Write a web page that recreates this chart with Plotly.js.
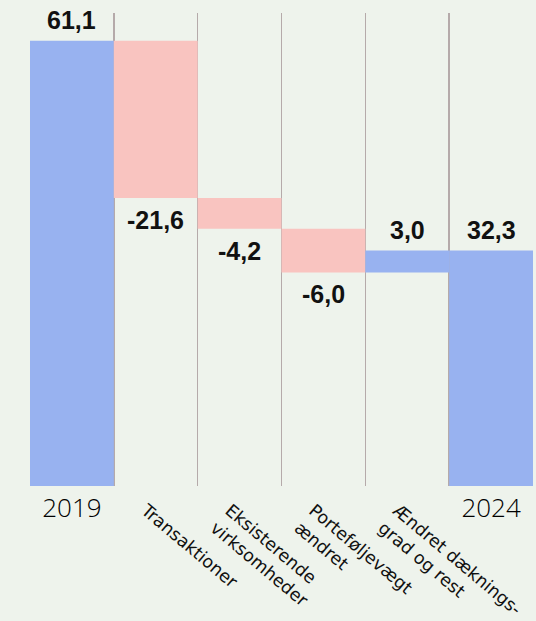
<!DOCTYPE html>
<html>
<head>
<meta charset="utf-8">
<script src="https://cdn.plot.ly/plotly-3.0.1.min.js"></script>
<style>html,body{margin:0;padding:0;background:#eef3ec;}#chart{width:536px;height:621px;}</style>
</head>
<body>
<div id="chart"></div>
<script>
const categories = ["2019", "Transaktioner", "Eksisterende<br>virksomheder", "Porteføljevægt<br>ændret", "Ændret dæknings-<br>grad og rest", "2024"];
const measures = ["absolute", "relative", "relative", "relative", "relative", "total"];
const values = [61.1, -21.6, -4.2, -6.0, 3.0, 0];
const valueLabels = ["61,1", "-21,6", "-4,2", "-6,0", "3,0", "32,3"];

const blue = "#98b2f0";
const pink = "#f9c4c0";
const idx = categories.map((_, i) => i);

const trace = {
  type: "waterfall",
  x: idx,
  y: values,
  measure: measures,
  textposition: "none",
  increasing: {marker: {color: blue}},
  decreasing: {marker: {color: pink}},
  totals: {marker: {color: blue}},
  connector: {visible: false},
  hoverinfo: "none"
};
const dummy2 = {type: "scatter", x: [], y: [], xaxis: "x2", yaxis: "y", hoverinfo: "none", showlegend: false};
const dummy3 = {type: "scatter", x: [], y: [], xaxis: "x3", yaxis: "y", hoverinfo: "none", showlegend: false};

// label positions from the running totals
let running = 0;
const annotations = values.map((v, i) => {
  const m = measures[i];
  let end;
  if (m === "absolute") { end = v; }
  else if (m === "total") { end = running; }
  else { end = running + v; }
  running = end;
  const down = m === "relative" && v < 0;
  return {
    x: idx[i], y: end, xref: "x", yref: "y",
    text: valueLabels[i], showarrow: false,
    yanchor: down ? "top" : "bottom",
    yshift: down ? -6 : 5,
    font: {family: "Liberation Sans, Arial, sans-serif", size: 25, color: "#111", weight: 700}
  };
});

const edge = [-0.5, categories.length - 0.5];
const layout = {
  width: 536, height: 621,
  margin: {l: 30, r: 3, t: 13, b: 135},
  paper_bgcolor: "#eef3ec",
  plot_bgcolor: "#eef3ec",
  showlegend: false,
  waterfallgap: 0,
  annotations: annotations,
  xaxis: {
    type: "linear", range: edge,
    tickvals: [idx[0], idx[idx.length - 1]],
    ticktext: [categories[0], categories[categories.length - 1]],
    tickangle: 0, showgrid: false, zeroline: false, showline: false, ticks: "",
    tickfont: {family: "Open Sans, sans-serif", size: 26, color: "#000", weight: 300},
    ticklabelstandoff: 4
  },
  xaxis2: {
    type: "linear", range: edge, overlaying: "x", anchor: "y", side: "bottom",
    tickvals: idx.slice(1, -1),
    ticktext: categories.slice(1, -1),
    tickangle: 40, showgrid: false, zeroline: false, showline: false, ticks: "",
    tickfont: {family: "DejaVu Sans, sans-serif", size: 17.5, color: "#111"},
    ticklabelstandoff: 10,
    ticklabelshift: -10
  },
  xaxis3: {
    type: "linear", range: edge, overlaying: "x", anchor: "y", side: "bottom",
    tickvals: idx.slice(1).map(i => i - 0.5),
    showticklabels: false, showgrid: true, gridcolor: "#b5aaaa", gridwidth: 1.5,
    zeroline: false, showline: false, ticks: "", layer: "above traces"
  },
  yaxis: {
    range: [0, 64.9], showgrid: false, zeroline: false, showline: false,
    showticklabels: false, ticks: ""
  }
};

Plotly.newPlot("chart", [trace, dummy2, dummy3], layout, {displayModeBar: false, staticPlot: true});
</script>
</body>
</html>
